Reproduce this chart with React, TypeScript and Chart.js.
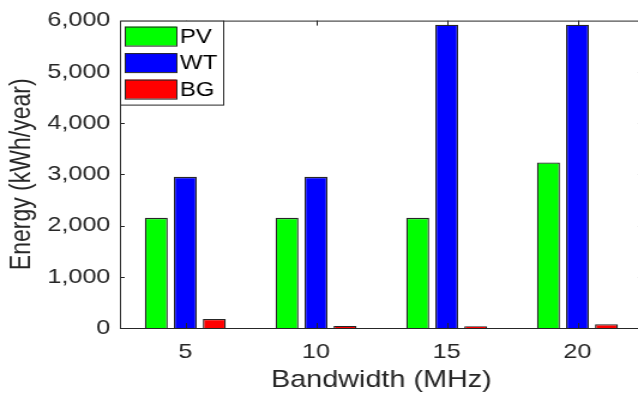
import React, { useEffect, useRef } from "react";
import { Chart, registerables } from "chart.js";

Chart.register(...registerables);

const categories = ["5", "10", "15", "20"];
const seriesNames = ["PV", "WT", "BG"];
const pvValues = [2150, 2150, 2150, 3230];
const wtValues = [2950, 2950, 5920, 5920];
const bgValues = [175, 40, 35, 75];
const yTicks = [0, 1000, 2000, 3000, 4000, 5000, 6000];

const colors = ["#00ff00", "#0000ff", "#ff0000"];
const axisColor = "#262626";
const FONT = "'Liberation Sans', Arial, Helvetica, sans-serif";

const matlabBox = {
  id: "matlabBox",
  afterDatasetsDraw(chart: any) {
    const { ctx, chartArea, scales } = chart;
    const { left, right, top, bottom } = chartArea;
    ctx.save();
    ctx.strokeStyle = axisColor;
    ctx.lineWidth = 1;
    ctx.beginPath();
    ctx.rect(left + 0.5, top + 0.5, right - left - 1, bottom - top);
    ctx.stroke();
    // y ticks inward
    const y = scales.y;
    yTicks.forEach((v) => {
      const py = Math.round(y.getPixelForValue(v)) + 0.5;
      ctx.beginPath();
      ctx.moveTo(left, py);
      ctx.lineTo(left + 4, py);
      ctx.moveTo(right, py);
      ctx.lineTo(right - 4, py);
      ctx.stroke();
    });
    const x = scales.x;
    categories.forEach((_, i) => {
      const px = Math.round(x.getPixelForValue(i)) + 0.5;
      ctx.beginPath();
      ctx.moveTo(px, bottom);
      ctx.lineTo(px, bottom - 5);
      ctx.moveTo(px, top);
      ctx.lineTo(px, top + 5);
      ctx.stroke();
    });
    // legend
    const lx = left;
    const ly = top;
    const lw = 86;
    const lh = 84;
    ctx.fillStyle = "#ffffff";
    ctx.fillRect(lx, ly, lw, lh);
    ctx.strokeRect(lx + 0.5, ly + 0.5, lw, lh);
    ctx.font = `20px ${FONT}`;
    ctx.textBaseline = "middle";
    ctx.textAlign = "left";
    chart.data.datasets.forEach((ds: any, i: number) => {
      const sy = ly + 6 + i * 26.5;
      ctx.fillStyle = ds.backgroundColor;
      ctx.fillRect(lx + 4, sy, 43, 19);
      ctx.strokeStyle = axisColor;
      ctx.strokeRect(lx + 4.5, sy + 0.5, 43, 19);
      ctx.fillStyle = "#000000";
      ctx.fillText(ds.label, lx + 50, sy + 10.5);
    });
    ctx.restore();
  },
};

export default function App() {
  const ref = useRef<HTMLCanvasElement>(null);
  useEffect(() => {
    if (!ref.current) return;
    const datasets = [pvValues, wtValues, bgValues].map((vals, i) => ({
      label: seriesNames[i],
      data: vals,
      backgroundColor: colors[i],
      borderColor: axisColor,
      borderWidth: 1.3,
      categoryPercentage: 0.666,
      barPercentage: 0.79,
    }));
    const chart = new Chart(ref.current, {
      type: "bar",
      data: { labels: categories, datasets },
      options: {
        animation: false,
        responsive: false,
        devicePixelRatio: 1,
        layout: { padding: { top: 16, right: 1, left: 0, bottom: 0 } },
        plugins: { legend: { display: false }, tooltip: { enabled: false } },
        scales: {
          x: {
            grid: { display: false, drawTicks: false },
            border: { display: false },
            ticks: { color: axisColor, font: { family: FONT, size: 21 }, padding: 12 },
            title: {
              display: true,
              text: "Bandwidth (MHz)",
              color: axisColor,
              font: { family: FONT, size: 24 },
              padding: { top: 0, bottom: 3 },
            },
            afterFit: (s: any) => {
              s.height = 70;
            },
          },
          y: {
            min: 0,
            max: 6000,
            grid: { display: false, drawTicks: false },
            border: { display: false },
            ticks: {
              stepSize: 1000,
              color: axisColor,
              font: { family: FONT, size: 21 },
              padding: 8,
              callback: (v: any) => Number(v).toLocaleString("en-US"),
            },
            title: {
              display: true,
              text: "Energy (kWh/year)",
              color: axisColor,
              font: { family: FONT, size: 23 },
              padding: { top: 5, bottom: 0 },
            },
            afterFit: (s: any) => {
              s.width = 100;
            },
          },
        },
      },
      plugins: [matlabBox],
    });
    return () => chart.destroy();
  }, []);
  return (
    <div
      style={{
        position: "fixed",
        left: 0,
        top: 0,
        width: 638,
        height: 398,
        overflow: "hidden",
        background: "#ffffff",
      }}
    >
      <canvas
        ref={ref}
        width={537}
        height={398}
        style={{ width: "644px", height: "398px", display: "block" }}
      />
    </div>
  );
}
